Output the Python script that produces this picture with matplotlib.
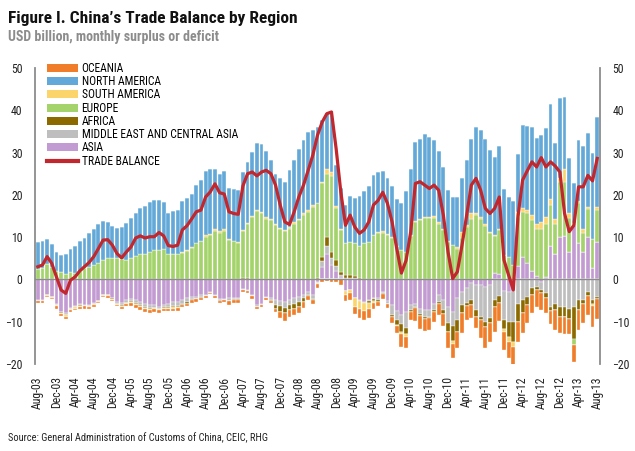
import numpy as np
import matplotlib
matplotlib.use("Agg")
import matplotlib.pyplot as plt
from matplotlib import font_manager as fm
from matplotlib.patches import Patch
from matplotlib.lines import Line2D

# ── Data (USD bn, monthly, Aug-03 .. Aug-13) ──────────────────────────────────
# rows: Aug-03..Mar-05 | Apr-05..Nov-06 | Dec-06..Jul-08 | Aug-08..Mar-10 | Apr-10..Nov-11 | Dec-11..Aug-13
asia = [
    -4.9, -4.9, -3.7, -4.1, -5.7, -7.6, -8.0, -6.7, -6.3, -5.9, -6.0, -6.0, -5.5, -5.0, -3.7, -3.7, -4.3, -5.3, -5.5, -4.9,
    -4.6, -4.9, -5.3, -5.7, -6.1, -6.1, -6.5, -6.1, -5.7, -5.3, -5.3, -4.9, -4.5, -4.1, -4.1, -3.7, -3.7, -2.9, -3.7, -4.7,
    -4.7, -4.5, -4.3, -4.3, -2.2, -2.6, -3.7, -6.1, -5.7, -4.1, -4.3, -4.9, -5.1, -5.3, -4.9, -4.5, -4.1, -3.7, -2.9, -3.6,
    -0.6, 3.0, 6.0, 3.5, 2.0, 0.5, -2.8, -2.5, -4.5, -4.9, -5.3, -4.9, -4.5, -4.5, -2.9, -5.1, -6.1, -7.5, -8.5, -7.6,
    -6.1, -5.7, -6.9, -7.2, -7.2, -5.7, -3.7, -4.9, -6.5, -7.6, -4.5, -2.9, -2.1, -0.9, -1.3, -1.3, -1.7, -1.3, 1.5, 1.4,
    -2.7, -2.9, -2.7, 3.1, 5.4, 3.8, 2.0, 0.8, -0.6, 0.5, 8.0, 6.1, 10.1, 10.3, 6.4, 12.8, 8.5, 6.5, 10.0, 2.8, 8.8,
]
mideast = [
    -0.1, -0.1, -0.1, -0.1, -0.3, -0.2, -0.3, -0.2, -0.2, -0.2, -0.2, -0.2, -0.2, -0.1, -0.1, -0.1, -0.2, -0.4, -0.5, -0.6,
    -0.6, -0.7, -0.7, -0.8, -0.7, -0.6, -0.4, -0.5, -0.8, -1.0, -0.9, -0.8, -0.9, -0.6, -0.5, -0.5, -0.2, -0.2, -0.2, -0.2,
    -0.2, -0.5, -0.4, -0.4, -0.2, -0.2, -0.3, -0.4, -0.3, -0.2, -0.5, -1.2, -1.3, -1.4, -1.2, -1.2, -1.2, -0.8, -0.8, -1.0,
    -0.3, 1.3, 2.0, 1.5, 1.2, 0.5, 0.3, 0.3, 0.3, -0.2, -0.2, -0.2, -0.2, -0.3, -0.3, -0.6, -2.4, -2.0, -2.0, -3.9,
    -1.2, -0.8, -1.2, -1.8, -1.6, -1.6, -1.6, -2.4, -3.9, -3.5, -5.1, -3.1, -3.5, -3.9, -5.9, -7.5, -8.3, -7.9, -4.9, -4.0,
    -6.8, -7.1, -7.3, -5.8, -4.9, -4.1, -2.1, -1.7, -1.9, -3.3, -6.5, -5.7, -6.6, -6.6, -6.9, -6.5, -4.9, -4.9, -3.0, -4.9, -4.1,
]
africa = [
    0.1, 0.1, 0.1, 0.0, -0.1, -0.1, -0.2, -0.1, -0.1, -0.1, 0.0, -0.1, -0.1, 0.0, 0.0, 0.0, -0.1, -0.1, -0.3, -0.1,
    -0.1, -0.2, -0.2, -0.2, -0.1, -0.1, -0.1, -0.1, -0.2, -0.3, -0.3, -0.3, -0.3, -0.2, -0.1, -0.1, 0.0, 0.0, 0.2, -0.1,
    0.2, -0.1, -0.1, -0.1, 0.3, 0.3, 0.2, 0.1, 0.0, -0.1, -0.2, -0.8, -1.2, -1.3, -1.2, -1.2, -1.2, -0.9, -0.3, -0.3,
    0.4, 1.0, 2.0, 1.5, 1.5, 0.8, 0.8, 0.8, 0.6, 0.3, 0.2, -0.4, -0.4, -0.6, -0.2, -0.2, -0.3, -1.2, -2.0, -1.4,
    -0.3, -0.3, -0.5, -0.4, -0.4, -0.4, -0.4, -0.8, -2.0, -3.5, -2.8, -2.0, -0.8, -1.2, -1.6, -0.8, -1.2, -1.2, -1.6, -1.6,
    -2.3, -3.5, -4.7, -4.2, -3.1, -2.0, -1.6, -0.8, -0.8, -1.2, -1.0, -1.6, -2.2, -2.2, -2.4, -7.5, -2.4, -0.8, -1.0, -0.8, -0.6,
]
europe = [
    2.4, 2.6, 3.5, 3.0, 2.1, 1.7, 1.4, 1.8, 1.6, 2.1, 2.6, 3.0, 3.4, 4.0, 4.7, 5.0, 5.1, 5.0, 4.8, 4.7,
    5.0, 5.6, 5.9, 6.1, 6.5, 6.9, 7.0, 7.1, 6.1, 6.1, 6.1, 6.3, 6.8, 7.4, 8.5, 9.0, 10.1, 10.4, 11.2, 11.0,
    11.3, 9.3, 9.0, 8.7, 11.1, 12.9, 14.6, 16.0, 15.6, 14.4, 14.0, 12.8, 12.0, 11.4, 12.0, 13.2, 14.0, 15.2, 16.0, 17.2,
    17.6, 17.4, 15.0, 18.0, 12.1, 9.9, 7.4, 7.8, 7.6, 7.7, 8.3, 8.9, 10.5, 10.9, 11.0, 10.6, 9.7, 8.0, 6.9, 6.5,
    10.3, 13.5, 14.0, 14.6, 14.6, 14.6, 13.2, 11.7, 8.9, 8.1, 7.3, 9.7, 12.4, 14.4, 15.2, 14.4, 12.7, 10.9, 8.8, 10.3,
    5.8, 5.4, 3.4, 11.7, 10.6, 11.8, 12.0, 11.2, 12.0, 12.5, 9.5, 7.1, 13.0, 12.8, 8.2, -1.6, 9.6, 4.5, 6.6, 6.7, 7.7,
]
samerica = [
    -0.2, -0.2, -0.2, -0.2, -0.3, -0.3, -0.3, -0.2, -0.3, -0.3, -0.2, -0.3, -0.3, -0.2, -0.1, -0.2, -0.2, -0.2, -0.2, -0.2,
    -0.3, -0.3, -0.3, -0.3, -0.3, -0.3, -0.3, -0.3, -0.3, -0.3, -0.3, 0.2, 0.2, 0.2, 0.2, 0.2, 0.3, 0.3, 0.5, 0.5,
    0.4, 0.2, 0.1, 0.1, 0.2, 0.2, 0.2, 0.3, 0.4, 0.3, 0.2, 0.2, 0.2, 0.2, 0.3, 0.3, 0.3, 0.4, 0.5, 0.5,
    -0.2, 0.4, 1.0, 1.0, 0.6, 0.3, -0.8, -0.8, -2.0, -2.0, -2.0, -1.6, -0.4, 0.2, 0.5, 0.2, 0.3, -0.2, -0.4, -0.6,
    0.2, 0.2, 0.2, 0.2, 0.2, 0.3, 0.3, 0.2, 0.3, -0.6, 0.4, 1.6, 0.5, 1.2, 0.4, 0.3, 0.3, 0.3, 0.3, 0.3,
    -0.7, -1.2, -1.2, 1.2, 1.0, 0.8, 1.2, 1.2, 1.5, 1.8, 1.6, 1.2, 0.8, 2.9, 1.0, 0.5, 0.4, 1.0, 0.6, -0.6, 0.6,
]
namerica = [
    6.3, 6.4, 5.9, 5.3, 4.3, 4.0, 4.5, 5.5, 6.4, 6.9, 7.2, 7.9, 8.6, 9.1, 9.1, 8.6, 7.5, 7.2, 7.6, 8.7,
    9.6, 10.2, 11.0, 11.3, 11.7, 11.9, 11.7, 11.1, 9.7, 10.0, 10.4, 12.0, 12.3, 12.7, 13.7, 14.3, 15.2, 15.3, 14.1, 13.5,
    13.7, 12.2, 12.2, 12.3, 13.7, 14.4, 15.2, 15.9, 16.1, 15.6, 14.0, 12.0, 11.7, 11.5, 13.5, 14.7, 16.6, 17.3, 18.4, 17.6,
    18.1, 14.5, 13.4, 14.3, 9.6, 9.7, 9.1, 10.9, 10.8, 11.8, 12.4, 13.2, 14.3, 14.3, 14.1, 13.1, 12.1, 11.1, 11.1, 14.4,
    15.7, 18.7, 18.9, 19.5, 18.9, 18.0, 16.8, 14.7, 11.9, 11.4, 11.7, 12.7, 15.3, 17.5, 20.5, 20.6, 20.3, 19.4, 18.4, 19.5,
    15.5, 14.1, 15.2, 13.6, 19.5, 19.9, 20.9, 20.3, 20.6, 21.1, 22.5, 17.9, 18.9, 17.1, 13.0, 9.4, 14.4, 19.5, 17.4, 20.3, 21.3,
]
oceania = [
    -0.3, -0.3, -0.2, -0.3, -0.5, -0.4, -0.5, -0.4, -0.4, -0.4, -0.5, -0.4, -0.4, -0.3, -0.2, -0.4, -0.3, -0.4, -0.5, -0.4,
    -0.6, -0.6, -0.7, -0.7, -0.7, -0.7, -0.6, -0.5, -0.5, -0.6, -0.6, -0.6, -0.5, -0.6, -0.6, -0.6, -0.4, -0.4, -0.5, -0.5,
    -0.5, -1.0, -0.8, -0.7, -0.6, -0.5, -0.6, -0.5, -0.6, -0.5, -0.6, -0.8, -1.5, -1.8, -1.5, -1.5, -1.5, -1.3, -0.8, -1.0,
    -0.9, -0.6, -0.4, -0.6, -0.7, -1.4, -1.6, -1.6, -1.6, -2.0, -2.0, -2.0, -1.6, -1.0, -1.2, -0.8, -1.6, -1.8, -3.1, -2.8,
    -2.0, -3.1, -3.1, -2.9, -2.8, -2.4, -2.8, -2.8, -3.9, -3.3, -3.9, -4.7, -3.1, -3.1, -2.8, -4.3, -5.0, -4.3, -5.9, -4.2,
    -4.1, -3.9, -4.6, -4.7, -4.6, -4.3, -4.3, -4.1, -3.9, -3.5, -3.0, -4.7, -3.9, -4.1, -3.6, -4.0, -4.7, -4.7, -4.5, -4.9, -4.7,
]
balance = [
    3.0, 3.4, 5.4, 3.8, 0.6, -2.5, -3.3, -0.2, 0.6, 2.0, 3.0, 4.0, 5.4, 7.3, 9.3, 9.4, 8.1, 6.1, 5.1, 6.5,
    7.7, 9.8, 10.3, 9.8, 10.1, 10.1, 11.1, 10.3, 8.0, 7.8, 8.1, 11.7, 12.7, 14.3, 16.0, 16.4, 19.5, 20.7, 22.6, 20.5,
    20.2, 16.0, 15.6, 15.4, 22.1, 25.0, 25.4, 24.5, 25.4, 25.8, 25.0, 22.3, 17.6, 13.6, 13.0, 16.0, 19.5, 22.3, 25.8, 29.4,
    34.1, 37.2, 39.2, 39.6, 30.9, 20.7, 12.8, 15.2, 12.4, 10.9, 11.7, 13.6, 17.6, 18.7, 20.6, 18.0, 13.6, 7.3, 1.5, 4.5,
    11.3, 22.7, 23.1, 22.3, 21.5, 22.3, 21.1, 15.2, 6.5, 0.2, 1.8, 8.1, 15.2, 22.3, 23.9, 21.1, 16.8, 15.6, 16.8, 19.5,
    4.6, 1.0, -2.5, 14.8, 23.5, 25.7, 27.8, 26.6, 28.8, 26.6, 27.8, 26.8, 25.4, 15.6, 11.3, 12.8, 21.9, 21.9, 24.6, 23.3, 28.6,
]

tick_labels = ["Aug-03", "Dec-03", "Apr-04", "Aug-04", "Dec-04", "Apr-05", "Aug-05", "Dec-05",
               "Apr-06", "Aug-06", "Dec-06", "Apr-07", "Aug-07", "Dec-07", "Apr-08", "Aug-08",
               "Dec-08", "Apr-09", "Aug-09", "Dec-09", "Apr-10", "Aug-10", "Dec-10", "Apr-11",
               "Aug-11", "Dec-11", "Apr-12", "Aug-12", "Dec-12", "Apr-13", "Aug-13"]

# stacking order (bottom -> top), legend shows it reversed
series = [
    ("ASIA", asia, "#C39BD3"),
    ("MIDDLE EAST AND CENTRAL ASIA", mideast, "#BEBEBE"),
    ("AFRICA", africa, "#8C6A00"),
    ("EUROPE", europe, "#A3D36A"),
    ("SOUTH AMERICA", samerica, "#FCD46C"),
    ("NORTH AMERICA", namerica, "#62A8D8"),
    ("OCEANIA", oceania, "#EF7D29"),
]
LINE_COLOR = "#C1272D"
AXIS_GREY = "#8C8C8C"

# ── Fonts: want a condensed face, fall back to the narrowest installed one ────
names = {f.name for f in fm.fontManager.ttflist}
condensed_faces = {f.name for f in fm.fontManager.ttflist
                   if str(f.stretch) in ("condensed", "semi-condensed", "extra-condensed")}
NARROW = None
for fam in ("Liberation Sans Narrow", "Roboto Condensed", "Open Sans Condensed",
            "Noto Sans Condensed", "DejaVu Sans Condensed"):
    if fam in names:
        NARROW = dict(family=fam)
        break
if NARROW is None:
    for fam in ("Roboto", "Noto Sans", "Open Sans", "DejaVu Sans"):
        if fam in condensed_faces:
            NARROW = dict(family=fam, stretch="condensed")
            break
if NARROW is None:
    NARROW = dict(family="Roboto" if "Roboto" in names else "Liberation Sans")
    SCALE = 0.88   # no condensed face: shrink a little to keep widths close
else:
    SCALE = 1.0


def fsize(s):
    return s * SCALE


# ── Figure ────────────────────────────────────────────────────────────────────
fig = plt.figure(figsize=(6.35, 4.51), dpi=100)
ax = fig.add_axes([35 / 635, 1 - 364 / 451, 565 / 635, 296 / 451])

n = len(balance)
for _, vals, _ in series:
    assert len(vals) == n
x = np.arange(n)

pos_base = np.zeros(n)
neg_base = np.zeros(n)
for name, vals, color in series:
    v = np.asarray(vals, dtype=float)
    pos = np.where(v > 0, v, 0)
    neg = np.where(v < 0, v, 0)
    ax.bar(x, pos, bottom=pos_base, width=0.82, color=color, edgecolor="white", linewidth=0.25)
    ax.bar(x, neg, bottom=neg_base, width=0.82, color=color, edgecolor="white", linewidth=0.25)
    pos_base += pos
    neg_base += neg

ax.axhline(0, color=AXIS_GREY, linewidth=1.0, zorder=3)
ax.plot(x, balance, color=LINE_COLOR, linewidth=2.3, zorder=4, solid_joinstyle="round")

ax.set_xlim(-0.6, n - 0.4)
ax.set_ylim(-20, 50)
ax.set_yticks(range(-20, 51, 10))
ax.tick_params(axis="y", length=0, labelsize=fsize(8.5), labelleft=True, labelright=True, pad=9)
ax.set_xticks(range(0, n, 4))
ax.set_xticklabels(tick_labels, rotation=90)
ax.tick_params(axis="x", length=0, labelsize=fsize(8.5), pad=9)
for lab in ax.get_xticklabels() + ax.get_yticklabels():
    lab.set_fontfamily(NARROW["family"])
    if "stretch" in NARROW:
        lab.set_fontstretch(NARROW["stretch"])
    lab.set_color("#222222")

for s in ("top", "bottom"):
    ax.spines[s].set_visible(False)
for s in ("left", "right"):
    ax.spines[s].set_color(AXIS_GREY)
    ax.spines[s].set_linewidth(1.3)

# legend (reverse of stacking order, line last)
handles = [Patch(facecolor=c, edgecolor="none", label=nm) for nm, _, c in reversed(series)]
handles.append(Line2D([], [], color=LINE_COLOR, linewidth=3, label="TRADE BALANCE"))
leg = fig.legend(handles=handles, loc="upper left", bbox_to_anchor=(47 / 635, 1 - 62 / 451),
                 frameon=False, borderaxespad=0, borderpad=0, handlelength=2.65, handleheight=0.7,
                 handletextpad=0.35, labelspacing=0.02,
                 prop=fm.FontProperties(size=fsize(8.3), **NARROW))

fig.text(8 / 635, 1 - 23 / 451, "Figure I. China\u2019s Trade Balance by Region",
         fontsize=fsize(12.5), fontweight="bold", color="#111111", **NARROW)
fig.text(8 / 635, 1 - 41 / 451, "USD billion, monthly surplus or deficit",
         fontsize=fsize(10), fontweight="bold", color="#8C8C8C", **NARROW)
fig.text(8 / 635, 1 - 441 / 451, "Source: General Administration of Customs of China, CEIC, RHG",
         fontsize=fsize(7.5), color="#222222", **NARROW)

fig.savefig("out.png", dpi=100)
